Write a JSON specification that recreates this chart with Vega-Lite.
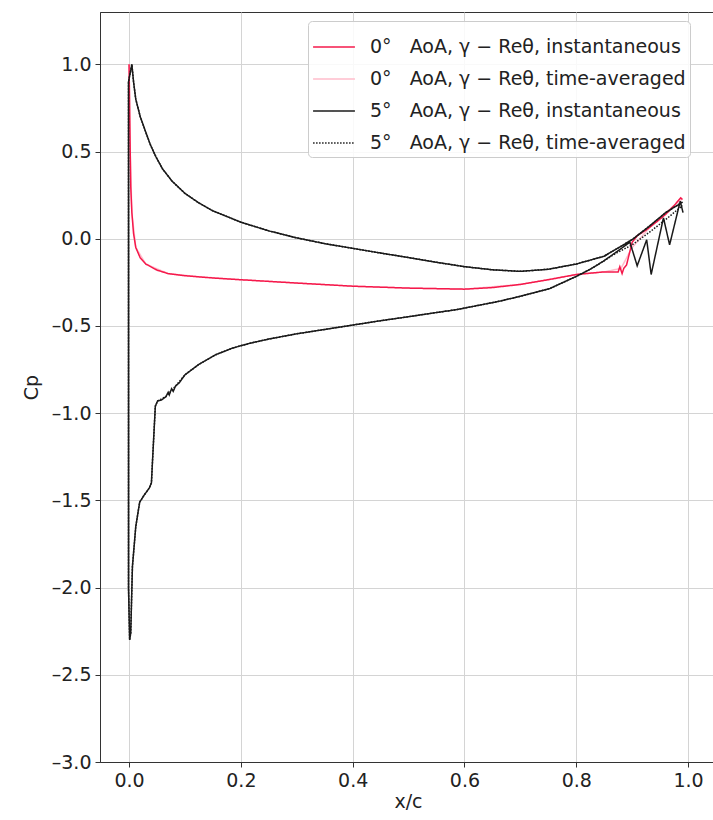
{
  "$schema": "https://vega.github.io/schema/vega-lite/v6.json",
  "autosize": "none",
  "padding": {"left": 100, "top": 12, "right": 0, "bottom": 58},
  "width": 616,
  "height": 750,
  "config": {
    "font": "DejaVu Sans",
    "view": {"stroke": "#333333", "strokeWidth": 1},
    "axis": {"labelFontSize": 19, "titleFontSize": 19, "labelColor": "#222222", "titleColor": "#222222", "domainColor": "#333333", "tickColor": "#333333", "gridColor": "#d4d4d4", "gridWidth": 1, "tickSize": 5, "labelPadding": 4, "titleFontWeight": "normal"}
  },
  "data": {"values": [
    {"k":"B","i":1,"x":0.0,"y":1.0},{"k":"B","i":2,"x":0.002,"y":0.51},{"k":"B","i":3,"x":0.005,"y":0.15},{"k":"B","i":4,"x":0.012,"y":-0.05},{"k":"B","i":5,"x":0.03,"y":-0.145},{"k":"B","i":6,"x":0.07,"y":-0.2},{"k":"B","i":7,"x":0.125,"y":-0.218},{"k":"B","i":8,"x":0.2,"y":-0.235},{"k":"B","i":9,"x":0.3,"y":-0.254},{"k":"B","i":10,"x":0.4,"y":-0.272},{"k":"B","i":11,"x":0.5,"y":-0.283},{"k":"B","i":12,"x":0.6,"y":-0.289},{"k":"B","i":13,"x":0.7,"y":-0.262},{"k":"B","i":14,"x":0.8,"y":-0.205},{"k":"B","i":15,"x":0.85,"y":-0.19},{"k":"B","i":16,"x":0.88,"y":-0.17},{"k":"B","i":17,"x":0.9,"y":-0.05},{"k":"B","i":18,"x":0.93,"y":0.06},{"k":"B","i":19,"x":0.96,"y":0.15},{"k":"B","i":20,"x":0.99,"y":0.23},

    {"k":"A","i":1,"x":0.0,"y":1.0},{"k":"A","i":2,"x":0.001,"y":0.75},{"k":"A","i":3,"x":0.002,"y":0.51},{"k":"A","i":4,"x":0.003,"y":0.3},{"k":"A","i":5,"x":0.005,"y":0.15},{"k":"A","i":6,"x":0.008,"y":0.03},{"k":"A","i":7,"x":0.012,"y":-0.05},{"k":"A","i":8,"x":0.02,"y":-0.11},{"k":"A","i":9,"x":0.03,"y":-0.145},{"k":"A","i":10,"x":0.05,"y":-0.18},{"k":"A","i":11,"x":0.07,"y":-0.2},{"k":"A","i":12,"x":0.1,"y":-0.212},{"k":"A","i":13,"x":0.15,"y":-0.225},{"k":"A","i":14,"x":0.2,"y":-0.235},{"k":"A","i":15,"x":0.3,"y":-0.254},{"k":"A","i":16,"x":0.4,"y":-0.272},{"k":"A","i":17,"x":0.5,"y":-0.283},{"k":"A","i":18,"x":0.6,"y":-0.289},{"k":"A","i":19,"x":0.65,"y":-0.28},{"k":"A","i":20,"x":0.7,"y":-0.262},{"k":"A","i":21,"x":0.75,"y":-0.235},{"k":"A","i":22,"x":0.8,"y":-0.205},{"k":"A","i":23,"x":0.85,"y":-0.19},{"k":"A","i":24,"x":0.875,"y":-0.19},{"k":"A","i":25,"x":0.878,"y":-0.16},{"k":"A","i":26,"x":0.882,"y":-0.2},{"k":"A","i":27,"x":0.885,"y":-0.17},{"k":"A","i":28,"x":0.89,"y":-0.15},{"k":"A","i":29,"x":0.9,"y":-0.02},{"k":"A","i":30,"x":0.91,"y":0.02},{"k":"A","i":31,"x":0.925,"y":0.05},{"k":"A","i":32,"x":0.935,"y":0.075},{"k":"A","i":33,"x":0.945,"y":0.1},{"k":"A","i":34,"x":0.96,"y":0.14},{"k":"A","i":35,"x":0.975,"y":0.19},{"k":"A","i":36,"x":0.987,"y":0.235},{"k":"A","i":37,"x":0.99,"y":0.225},

    {"k":"C","i":1,"x":0.99,"y":0.21},{"k":"C","i":2,"x":0.96,"y":0.15},{"k":"C","i":3,"x":0.93,"y":0.07},{"k":"C","i":4,"x":0.9,"y":-0.005},{"k":"C","i":5,"x":0.85,"y":-0.1},{"k":"C","i":6,"x":0.8,"y":-0.145},{"k":"C","i":7,"x":0.75,"y":-0.175},{"k":"C","i":8,"x":0.7,"y":-0.187},{"k":"C","i":9,"x":0.65,"y":-0.178},{"k":"C","i":10,"x":0.6,"y":-0.16},{"k":"C","i":11,"x":0.55,"y":-0.135},{"k":"C","i":12,"x":0.5,"y":-0.108},{"k":"C","i":13,"x":0.45,"y":-0.082},{"k":"C","i":14,"x":0.4,"y":-0.055},{"k":"C","i":15,"x":0.35,"y":-0.028},{"k":"C","i":16,"x":0.3,"y":0.005},{"k":"C","i":17,"x":0.25,"y":0.045},{"k":"C","i":18,"x":0.2,"y":0.095},{"k":"C","i":19,"x":0.15,"y":0.16},{"k":"C","i":20,"x":0.125,"y":0.205},{"k":"C","i":21,"x":0.1,"y":0.26},{"k":"C","i":22,"x":0.077,"y":0.33},{"k":"C","i":23,"x":0.06,"y":0.4},{"k":"C","i":24,"x":0.048,"y":0.47},{"k":"C","i":25,"x":0.038,"y":0.54},{"k":"C","i":26,"x":0.03,"y":0.61},{"k":"C","i":27,"x":0.02,"y":0.7},{"k":"C","i":28,"x":0.012,"y":0.8},{"k":"C","i":29,"x":0.008,"y":0.9},{"k":"C","i":30,"x":0.005,"y":1.0},{"k":"C","i":31,"x":-0.001,"y":0.9},{"k":"C","i":32,"x":-0.001,"y":-2.0},{"k":"C","i":33,"x":0.001,"y":-2.3},{"k":"C","i":34,"x":0.003,"y":-2.26},{"k":"C","i":35,"x":0.006,"y":-1.88},{"k":"C","i":36,"x":0.012,"y":-1.65},{"k":"C","i":37,"x":0.019,"y":-1.51},{"k":"C","i":38,"x":0.027,"y":-1.47},{"k":"C","i":39,"x":0.036,"y":-1.43},{"k":"C","i":40,"x":0.04,"y":-1.4},{"k":"C","i":41,"x":0.042,"y":-1.27},{"k":"C","i":42,"x":0.047,"y":-0.96},{"k":"C","i":43,"x":0.051,"y":-0.93},{"k":"C","i":44,"x":0.058,"y":-0.925},{"k":"C","i":45,"x":0.066,"y":-0.905},{"k":"C","i":46,"x":0.07,"y":-0.88},{"k":"C","i":47,"x":0.072,"y":-0.895},{"k":"C","i":48,"x":0.076,"y":-0.86},{"k":"C","i":49,"x":0.079,"y":-0.875},{"k":"C","i":50,"x":0.083,"y":-0.845},{"k":"C","i":51,"x":0.09,"y":-0.825},{"k":"C","i":52,"x":0.1,"y":-0.78},{"k":"C","i":53,"x":0.125,"y":-0.72},{"k":"C","i":54,"x":0.155,"y":-0.665},{"k":"C","i":55,"x":0.185,"y":-0.627},{"k":"C","i":56,"x":0.215,"y":-0.6},{"k":"C","i":57,"x":0.25,"y":-0.575},{"k":"C","i":58,"x":0.3,"y":-0.545},{"k":"C","i":59,"x":0.35,"y":-0.52},{"k":"C","i":60,"x":0.4,"y":-0.495},{"k":"C","i":61,"x":0.45,"y":-0.47},{"k":"C","i":62,"x":0.5,"y":-0.447},{"k":"C","i":63,"x":0.55,"y":-0.423},{"k":"C","i":64,"x":0.585,"y":-0.407},{"k":"C","i":65,"x":0.62,"y":-0.385},{"k":"C","i":66,"x":0.66,"y":-0.36},{"k":"C","i":67,"x":0.7,"y":-0.33},{"k":"C","i":68,"x":0.73,"y":-0.305},{"k":"C","i":69,"x":0.753,"y":-0.285},{"k":"C","i":70,"x":0.77,"y":-0.26},{"k":"C","i":71,"x":0.8,"y":-0.216},{"k":"C","i":72,"x":0.825,"y":-0.175},{"k":"C","i":73,"x":0.848,"y":-0.13},{"k":"C","i":74,"x":0.87,"y":-0.08},{"k":"C","i":75,"x":0.896,"y":-0.02},{"k":"C","i":76,"x":0.909,"y":-0.155},{"k":"C","i":77,"x":0.926,"y":-0.006},{"k":"C","i":78,"x":0.934,"y":-0.205},{"k":"C","i":79,"x":0.956,"y":0.12},{"k":"C","i":80,"x":0.967,"y":-0.035},{"k":"C","i":81,"x":0.986,"y":0.215},{"k":"C","i":82,"x":0.991,"y":0.15},

    {"k":"D","i":1,"x":0.99,"y":0.21},{"k":"D","i":2,"x":0.96,"y":0.15},{"k":"D","i":3,"x":0.93,"y":0.07},{"k":"D","i":4,"x":0.9,"y":-0.005},{"k":"D","i":5,"x":0.85,"y":-0.1},{"k":"D","i":6,"x":0.8,"y":-0.145},{"k":"D","i":7,"x":0.75,"y":-0.175},{"k":"D","i":8,"x":0.7,"y":-0.187},{"k":"D","i":9,"x":0.65,"y":-0.178},{"k":"D","i":10,"x":0.6,"y":-0.16},{"k":"D","i":11,"x":0.55,"y":-0.135},{"k":"D","i":12,"x":0.5,"y":-0.108},{"k":"D","i":13,"x":0.45,"y":-0.082},{"k":"D","i":14,"x":0.4,"y":-0.055},{"k":"D","i":15,"x":0.35,"y":-0.028},{"k":"D","i":16,"x":0.3,"y":0.005},{"k":"D","i":17,"x":0.25,"y":0.045},{"k":"D","i":18,"x":0.2,"y":0.095},{"k":"D","i":19,"x":0.15,"y":0.16},{"k":"D","i":20,"x":0.125,"y":0.205},{"k":"D","i":21,"x":0.1,"y":0.26},{"k":"D","i":22,"x":0.077,"y":0.33},{"k":"D","i":23,"x":0.06,"y":0.4},{"k":"D","i":24,"x":0.048,"y":0.47},{"k":"D","i":25,"x":0.038,"y":0.54},{"k":"D","i":26,"x":0.03,"y":0.61},{"k":"D","i":27,"x":0.02,"y":0.7},{"k":"D","i":28,"x":0.012,"y":0.8},{"k":"D","i":29,"x":0.008,"y":0.9},{"k":"D","i":30,"x":0.005,"y":1.0},{"k":"D","i":31,"x":-0.001,"y":0.9},{"k":"D","i":32,"x":-0.001,"y":-2.0},{"k":"D","i":33,"x":0.001,"y":-2.3},{"k":"D","i":34,"x":0.003,"y":-2.26},{"k":"D","i":35,"x":0.006,"y":-1.88},{"k":"D","i":36,"x":0.012,"y":-1.65},{"k":"D","i":37,"x":0.019,"y":-1.51},{"k":"D","i":38,"x":0.027,"y":-1.47},{"k":"D","i":39,"x":0.036,"y":-1.43},{"k":"D","i":40,"x":0.04,"y":-1.4},{"k":"D","i":41,"x":0.042,"y":-1.27},{"k":"D","i":42,"x":0.047,"y":-0.96},{"k":"D","i":43,"x":0.051,"y":-0.93},{"k":"D","i":44,"x":0.066,"y":-0.905},{"k":"D","i":45,"x":0.083,"y":-0.845},{"k":"D","i":46,"x":0.1,"y":-0.78},{"k":"D","i":47,"x":0.125,"y":-0.72},{"k":"D","i":48,"x":0.155,"y":-0.665},{"k":"D","i":49,"x":0.185,"y":-0.627},{"k":"D","i":50,"x":0.215,"y":-0.6},{"k":"D","i":51,"x":0.25,"y":-0.575},{"k":"D","i":52,"x":0.3,"y":-0.545},{"k":"D","i":53,"x":0.35,"y":-0.52},{"k":"D","i":54,"x":0.4,"y":-0.495},{"k":"D","i":55,"x":0.45,"y":-0.47},{"k":"D","i":56,"x":0.5,"y":-0.447},{"k":"D","i":57,"x":0.55,"y":-0.423},{"k":"D","i":58,"x":0.585,"y":-0.407},{"k":"D","i":59,"x":0.62,"y":-0.385},{"k":"D","i":60,"x":0.66,"y":-0.36},{"k":"D","i":61,"x":0.7,"y":-0.33},{"k":"D","i":62,"x":0.73,"y":-0.305},{"k":"D","i":63,"x":0.753,"y":-0.285},{"k":"D","i":64,"x":0.77,"y":-0.26},{"k":"D","i":65,"x":0.8,"y":-0.216},{"k":"D","i":66,"x":0.825,"y":-0.175},{"k":"D","i":67,"x":0.848,"y":-0.13},{"k":"D","i":68,"x":0.87,"y":-0.085},{"k":"D","i":69,"x":0.9,"y":-0.035},{"k":"D","i":70,"x":0.93,"y":0.035},{"k":"D","i":71,"x":0.96,"y":0.11},{"k":"D","i":72,"x":0.99,"y":0.19}
  ]},
  "mark": {"type": "line", "strokeWidth": 1.5, "clip": true},
  "encoding": {
    "x": {"field": "x", "type": "quantitative", "scale": {"domain": [-0.052, 1.05], "nice": false, "zero": false},
      "axis": {"values": [0, 0.2, 0.4, 0.6, 0.8, 1.0], "format": ".1f", "title": "x/c", "titlePadding": 2}},
    "y": {"field": "y", "type": "quantitative", "scale": {"domain": [-3, 1.3], "nice": false, "zero": false},
      "axis": {"values": [-3, -2.5, -2, -1.5, -1, -0.5, 0, 0.5, 1.0], "labelExpr": "replace(format(datum.value, '.1f'), '−', '–')", "title": "Cp", "titlePadding": 10}},
    "order": {"field": "i", "type": "quantitative"},
    "color": {"field": "k", "type": "nominal",
      "scale": {"domain": ["A", "B", "C", "D"], "range": ["#f5194b", "#ffbccb", "#1a1a1a", "#1a1a1a"]},
      "legend": {"title": null, "orient": "none", "legendX": 208, "legendY": 9, "padding": 4,
        "fillColor": "rgba(255,255,255,0.85)", "strokeColor": "#cccccc", "cornerRadius": 4,
        "symbolType": "stroke", "symbolSize": 1750, "symbolStrokeWidth": 1.5, "labelFontSize": 19, "labelColor": "#222222",
        "labelOffset": 14, "rowPadding": -4, "labelLimit": 500,
        "labelExpr": "datum.label == 'A' ? '0°\u00a0\u00a0 AoA, γ − Reθ, instantaneous' : datum.label == 'B' ? '0°\u00a0\u00a0 AoA, γ − Reθ, time-averaged' : datum.label == 'C' ? '5°\u00a0\u00a0 AoA, γ − Reθ, instantaneous' : '5°\u00a0\u00a0 AoA, γ − Reθ, time-averaged'"}},
    "strokeDash": {"field": "k", "type": "nominal",
      "scale": {"domain": ["A", "B", "C", "D"], "range": [[1, 0], [1, 0], [1, 0], [1.5, 1.5]]},
      "legend": null}
  }
}
